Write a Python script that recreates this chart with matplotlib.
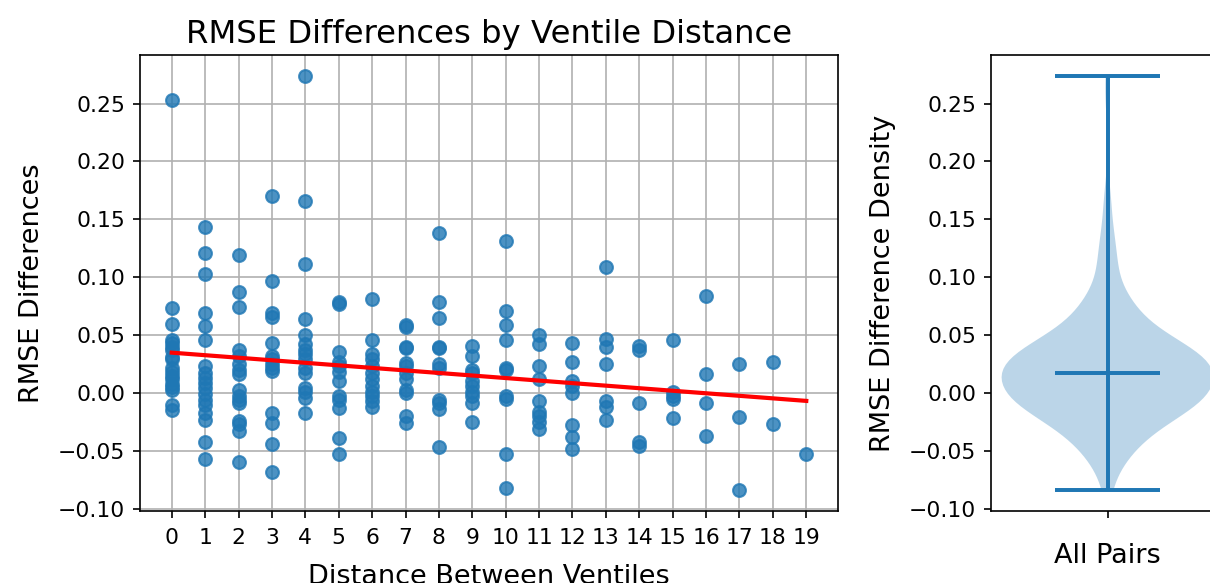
import matplotlib
matplotlib.use('Agg')
import matplotlib.pyplot as plt
import numpy as np

# RMSE differences for each pair, grouped by distance between ventiles
dist_0 = [0.253, 0.073, 0.060, 0.046, 0.043, 0.040, 0.037, 0.031, 0.029, 0.022, 0.018,
          0.015, 0.012, 0.008, 0.005, 0.003, -0.010, -0.015]
dist_1 = [0.143, 0.121, 0.103, 0.069, 0.058, 0.046, 0.023, 0.017, 0.013, 0.009, 0.004,
          -0.001, -0.006, -0.010, -0.017, -0.023, -0.042, -0.057]
dist_2 = [0.119, 0.087, 0.074, 0.037, 0.032, 0.025, 0.020, 0.016, 0.003, -0.003, -0.006,
          -0.009, -0.024, -0.027, -0.033, -0.060]
dist_3 = [0.170, 0.097, 0.069, 0.066, 0.043, 0.032, 0.029, 0.025, 0.022, 0.019, -0.017,
          -0.026, -0.044, -0.068]
dist_4 = [0.274, 0.166, 0.111, 0.064, 0.050, 0.042, 0.037, 0.034, 0.029, 0.022, 0.017,
          0.004, 0.001, -0.004, -0.017]
dist_5 = [0.079, 0.077, 0.035, 0.027, 0.023, 0.018, 0.010, -0.003, -0.006, -0.013,
          -0.039, -0.053]
dist_6 = [0.081, 0.046, 0.034, 0.029, 0.023, 0.017, 0.012, 0.006, 0.001, -0.003, -0.007,
          -0.012]
dist_7 = [0.059, 0.057, 0.040, 0.039, 0.026, 0.023, 0.017, 0.012, 0.003, 0.000, -0.020,
          -0.026]
dist_8 = [0.138, 0.079, 0.065, 0.040, 0.039, 0.025, 0.022, -0.006, -0.009, -0.014, -0.047]
dist_9 = [0.041, 0.032, 0.020, 0.017, 0.010, 0.006, 0.001, -0.003, -0.009, -0.025]
dist_10 = [0.131, 0.071, 0.059, 0.046, 0.022, 0.020, -0.003, -0.005, -0.053, -0.082]
dist_11 = [0.050, 0.042, 0.023, 0.012, -0.007, -0.016, -0.020, -0.025, -0.031]
dist_12 = [0.043, 0.027, 0.010, 0.006, 0.000, -0.028, -0.038, -0.048]
dist_13 = [0.109, 0.047, 0.040, 0.025, -0.007, -0.012, -0.023]
dist_14 = [0.041, 0.037, -0.009, -0.042, -0.046]
dist_15 = [0.046, 0.001, -0.003, -0.005, -0.022]
dist_16 = [0.084, 0.016, -0.009, -0.037]
dist_17 = [0.025, -0.021, -0.084]
dist_18 = [0.027, -0.027]
dist_19 = [-0.053]

groups = [dist_0, dist_1, dist_2, dist_3, dist_4, dist_5, dist_6, dist_7, dist_8, dist_9,
          dist_10, dist_11, dist_12, dist_13, dist_14, dist_15, dist_16, dist_17, dist_18,
          dist_19]
distances = list(range(len(groups)))
violin_label = 'All Pairs'

W, H = 1210, 583


def main():
    x = np.concatenate([[d] * len(g) for d, g in zip(distances, groups)])
    y = np.concatenate(groups)

    plt.rcParams['xtick.labelsize'] = 10.5
    plt.rcParams['ytick.labelsize'] = 10.5

    fig = plt.figure(figsize=(W / 150, H / 150), dpi=150)
    ax = fig.add_axes([140 / W, 72 / H, 698 / W, 456 / H])
    ax2 = fig.add_axes([991 / W, 72 / H, 233 / W, 456 / H])

    # scatter + least squares fit
    ax.scatter(x, y, color='#1f77b4', alpha=0.8, s=38, zorder=3)
    slope, intercept = np.polyfit(x, y, 1)
    xs = np.array([min(distances), max(distances)])
    ax.plot(xs, intercept + slope * xs, color='red', lw=2, zorder=4)
    ax.set_xticks(distances)
    ax.tick_params(axis='x', pad=4.5)
    ax.grid(True, zorder=0)
    ax.set_axisbelow(True)
    ax.set_title('RMSE Differences by Ventile Distance', fontsize=15.5)
    ax.set_xlabel('Distance Between Ventiles', fontsize=13, labelpad=8)
    ax.set_ylabel('RMSE Differences', fontsize=13, labelpad=6.5)

    # distribution of all differences
    parts = ax2.violinplot(y, positions=[1], showmedians=True)
    for key in ('cbars', 'cmins', 'cmaxes', 'cmedians'):
        parts[key].set_linewidth(1.9)
    ax2.set_xticks([1])
    ax2.set_xticklabels([violin_label], fontsize=13)
    ax2.tick_params(axis='x', pad=12)
    ax2.set_ylabel('RMSE Difference Density', fontsize=13, labelpad=6.5)

    fig.savefig('out.png', dpi=150)


if __name__ == "__main__":
    main()
